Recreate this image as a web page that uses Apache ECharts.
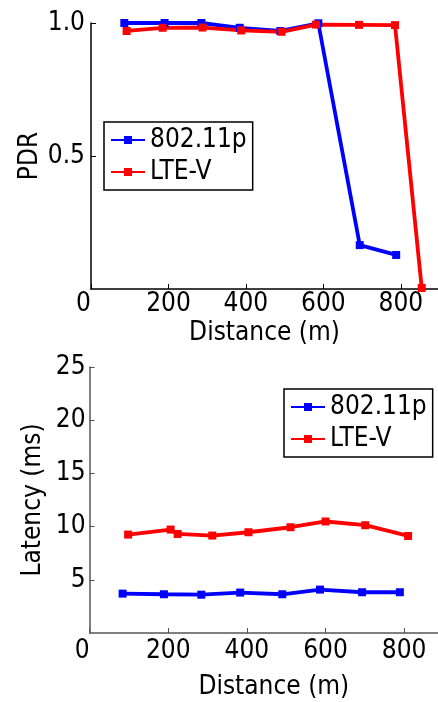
<!DOCTYPE html>
<html>
<head>
<meta charset="utf-8">
<style>
  html, body { margin: 0; padding: 0; background: #fff; }
  #chart { width: 438px; height: 702px; }
</style>
<script src="https://cdn.jsdelivr.net/npm/echarts@6/dist/echarts.min.js"></script>
</head>
<body>
<div id="chart"></div>
<script>
// PDR vs distance (top panel)
const pdrDistP = [86, 190, 285, 384, 489, 587, 694, 788];
const pdrValP = [1.0, 1.0, 1.0, 0.982, 0.97, 0.999, 0.165, 0.128];
const pdrDistL = [92, 185, 288, 388, 492, 581, 692, 785, 854];
const pdrValL = [0.97, 0.982, 0.983, 0.972, 0.967, 0.994, 0.993, 0.992, 0.004];

// latency vs distance (bottom panel)
const latDistP = [84, 189, 284, 383, 490, 586, 693, 789];
const latValP = [3.7, 3.64, 3.6, 3.8, 3.64, 4.08, 3.83, 3.83];
const latDistL = [98, 206, 224, 312, 404, 511, 600, 701, 810];
const latValL = [9.25, 9.72, 9.31, 9.16, 9.47, 9.94, 10.48, 10.13, 9.12];

const seriesNames = ['802.11p', 'LTE-V'];
const FONT = "'DejaVu Sans Condensed', 'DejaVu Sans', sans-serif";

const pairs = (xs, ys) => xs.map((x, i) => [x, ys[i]]);

const lineSeries = (name, color, data, idx) => ({
    name,
    type: 'line',
    xAxisIndex: idx,
    yAxisIndex: idx,
    data,
    symbol: 'rect',
    symbolSize: 8,
    clip: false,
    color,
    lineStyle: {color, width: 3.8},
    itemStyle: {color},
});

const xAxisBase = (axisColor, max, labelMargin, nameGap, namePad) => ({
    type: 'value',
    min: 0,
    max,
    interval: 200,
    name: 'Distance (m)',
    nameLocation: 'middle',
    nameGap,
    nameMoveOverlap: false,
    nameTextStyle: {fontFamily: FONT, fontSize: 26, color: '#000', padding: namePad},
    axisLine: {lineStyle: {color: axisColor, width: 1.5}},
    axisTick: {inside: true, length: 5, lineStyle: {color: axisColor}},
    axisLabel: {
        fontFamily: FONT, fontSize: 26, color: '#000', margin: labelMargin,
        showMaxLabel: false, alignMinLabel: 'right',
    },
    splitLine: {show: false},
});

const chart = echarts.init(document.getElementById('chart'));
chart.setOption({
    animation: false,
    grid: [
        {left: 91, top: 23, right: 0, height: 266},
        {left: 89.6, top: 367, right: 0, height: 266},
    ],
    legend: [
        {
            data: seriesNames, orient: 'vertical', left: 104, top: 122,
            itemWidth: 34, itemHeight: 10, itemGap: 6, padding: [5, 6],
            borderColor: '#000', borderWidth: 1.5,
            textStyle: {fontFamily: FONT, fontSize: 26, color: '#000'},
        },
        {
            data: seriesNames, orient: 'vertical', left: 284, top: 389,
            itemWidth: 34, itemHeight: 10, itemGap: 6, padding: [5, 6],
            borderColor: '#000', borderWidth: 1.5,
            textStyle: {fontFamily: FONT, fontSize: 26, color: '#000'},
        },
    ],
    xAxis: [
        Object.assign(xAxisBase('#000', 896, 2, 31, [0, 0, 0, 0]), {gridIndex: 0}),
        Object.assign(xAxisBase('#555', 886, 5, 41, [0, 0, 0, 20]), {gridIndex: 1}),
    ],
    yAxis: [
        {
            gridIndex: 0, type: 'value', min: 0, max: 1, interval: 0.5,
            name: 'PDR', nameLocation: 'middle', nameGap: 48, nameMoveOverlap: false,
            nameTextStyle: {fontFamily: FONT, fontSize: 26, color: '#000'},
            axisLine: {show: true, lineStyle: {color: '#000', width: 1.5}},
            axisTick: {show: true, inside: true, length: 5, lineStyle: {color: '#000'}},
            axisLabel: {
                fontFamily: FONT, fontSize: 26, color: '#000', margin: 6,
                showMinLabel: false, formatter: v => v.toFixed(1),
            },
            splitLine: {show: false},
        },
        {
            gridIndex: 1, type: 'value', min: 0, max: 25, interval: 5,
            name: 'Latency (ms)', nameLocation: 'middle', nameGap: 43, nameMoveOverlap: false,
            nameTextStyle: {fontFamily: FONT, fontSize: 26, color: '#000'},
            axisLine: {show: true, lineStyle: {color: '#555', width: 1.5}},
            axisTick: {show: true, inside: true, length: 5, lineStyle: {color: '#555'}},
            axisLabel: {
                fontFamily: FONT, fontSize: 26, color: '#000', margin: 4,
                showMinLabel: false,
            },
            splitLine: {show: false},
        },
    ],
    series: [
        lineSeries(seriesNames[0], '#0000ff', pairs(pdrDistP, pdrValP), 0),
        lineSeries(seriesNames[1], '#ff0000', pairs(pdrDistL, pdrValL), 0),
        lineSeries(seriesNames[0], '#0000ff', pairs(latDistP, latValP), 1),
        lineSeries(seriesNames[1], '#ff0000', pairs(latDistL, latValL), 1),
    ],
});
</script>
</body>
</html>
